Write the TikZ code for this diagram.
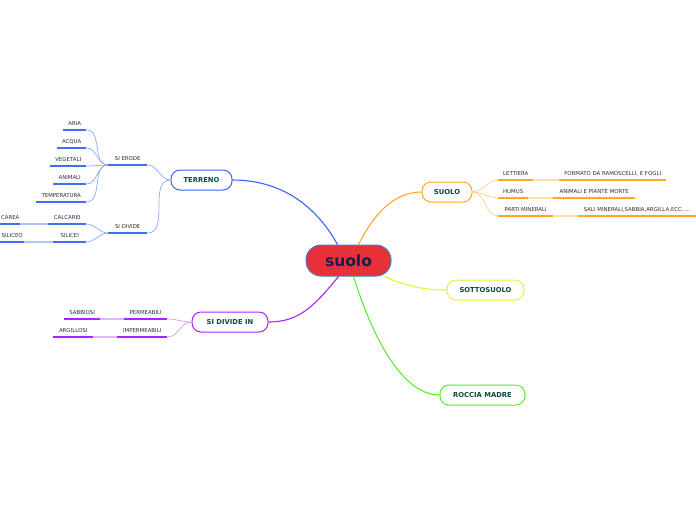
\documentclass[tikz,border=0pt]{standalone}
\usepackage{fontspec}
\setmainfont{DejaVu Sans}
\definecolor{cblue}{HTML}{3366FF}
\definecolor{cbluel}{HTML}{8FA8FF}
\definecolor{cblueul}{HTML}{3F6FF0}
\definecolor{corange}{HTML}{FFA726}
\definecolor{corangel}{HTML}{FFD08A}
\definecolor{cpurple}{HTML}{AA22FF}
\definecolor{cpurplel}{HTML}{D499FF}
\definecolor{cyellow}{HTML}{D8FA3C}
\definecolor{cgreen}{HTML}{55EE33}
\definecolor{cred}{HTML}{E8303A}
\definecolor{cborder}{HTML}{4A80B8}
\definecolor{ctext}{HTML}{0B4A3C}
\definecolor{cnavy}{HTML}{1A1F4A}
\definecolor{cgray}{HTML}{2E2E2E}
\tikzset{
  x=1pt, y=-1pt,
  centre/.style={draw=cborder, line width=1pt, fill=cred, rounded corners=15pt,
    minimum width=85pt, minimum height=31pt, inner sep=0pt,
    font=\fontsize{15.5}{15.5}\selectfont\bfseries, text=cnavy},
  topic/.style={draw=#1, line width=1pt, fill=white, rounded corners=9pt,
    minimum height=20pt, inner sep=0pt,
    font=\fontsize{6.8}{6.8}\selectfont\bfseries, text=ctext},
  leaf/.style={inner sep=0pt, minimum height=12pt, anchor=south west,
    font=\fontsize{5.4}{5.4}\selectfont, text=cgray},
  ul/.style={line width=1.6pt, draw=#1},
  main/.style={line width=1.1pt, draw=#1},
  twig/.style={line width=0.7pt, draw=#1},
  bridge/.style={line width=1.6pt, draw=#1},
}
\newcommand{\leafnode}[6]{% name, x1, x2, y, colour, text
  \node[leaf, minimum width=#3-#2] (#1) at (#2,#4) {#6};
  \draw[ul=#5] (#1.south west) -- (#1.south east);
}
\begin{document}
\begin{tikzpicture}
\useasboundingbox (0,0) rectangle (696,520);

% topics
\node[centre] (suolo) at (348.5,260.5) {suolo};
\node[topic=cblue, minimum width=61pt] (terreno) at (201.5,180) {TERRENO};
\node[topic=cpurple, minimum width=76pt] (divin) at (230,322) {SI DIVIDE IN};
\node[topic=corange, minimum width=50pt] (suoloB) at (447,192) {SUOLO};
\node[topic=cyellow, minimum width=77pt] (sotto) at (485.5,290) {SOTTOSUOLO};
\node[topic=cgreen, minimum width=85pt] (roccia) at (482.5,395) {ROCCIA MADRE};

% main connectors
\draw[main=cblue] (terreno.east) .. controls (295,180) and (325,222) .. ([xshift=-11pt]suolo.north);
\draw[main=corange] ([xshift=10pt]suolo.north) .. controls (375,212) and (395,192) .. (suoloB.west);
\draw[main=cyellow] ([xshift=36pt]suolo.south) .. controls (410,288) and (430,290) .. (sotto.west);
\draw[main=cgreen] ([xshift=5pt]suolo.south) .. controls (375,345) and (405,395) .. (roccia.west);
\draw[main=cpurple] ([xshift=-10pt]suolo.south) .. controls (315,305) and (300,322) .. (divin.east);

% blue branch
\leafnode{erode}{108}{147}{165}{cblueul}{SI ERODE}
\leafnode{divide}{108}{147}{233}{cblueul}{SI DIVIDE}
\leafnode{aria}{63}{86}{130}{cblueul}{ARIA}
\leafnode{acqua}{57}{86}{148}{cblueul}{ACQUA}
\leafnode{veget}{50}{86}{166}{cblueul}{VEGETALI}
\leafnode{anim}{53}{86}{184}{cblueul}{ANIMALI}
\leafnode{temp}{36}{86}{202}{cblueul}{TEMPERATURA}
\leafnode{calc}{48}{86}{224}{cblueul}{CALCAREI}
\leafnode{silicei}{53}{86}{242}{cblueul}{SILICEI}
\leafnode{carea}{0}{20}{224}{cblueul}{CAREA}
\leafnode{siliceo}{0}{24}{242}{cblueul}{SILICEO}

\draw[twig=cbluel] (erode.south east) to[out=0,in=180] (terreno.west);
\draw[twig=cbluel] (divide.south east) to[out=0,in=180] (terreno.west);
\foreach \n in {aria,acqua,veget,anim,temp}
  \draw[twig=cbluel] (\n.south east) to[out=0,in=180] (erode.south west);
\foreach \n in {calc,silicei}
  \draw[twig=cbluel] (\n.south east) to[out=0,in=180] (divide.south west);
\draw[bridge=cbluel!70] (carea.south east) -- (calc.south west);
\draw[bridge=cbluel!70] (siliceo.south east) -- (silicei.south west);

% purple branch
\leafnode{perm}{124}{167}{319}{cpurple}{PERMEABILI}
\leafnode{imperm}{117}{167}{337}{cpurple}{IMPERMEABILI}
\leafnode{sabb}{64}{100}{319}{cpurple}{SABBIOSI}
\leafnode{argil}{53}{93}{337}{cpurple}{ARGILLOSI}
\draw[twig=cpurplel] (perm.south east) to[out=0,in=180] (divin.west);
\draw[twig=cpurplel] (imperm.south east) to[out=0,in=180] (divin.west);
\draw[bridge=cpurplel!70] (sabb.south east) -- (perm.south west);
\draw[bridge=cpurplel!70] (argil.south east) -- (imperm.south west);

% orange branch
\leafnode{lett}{498}{533}{180}{corange}{LETTIERA}
\leafnode{humus}{498}{528}{198}{corange}{HUMUS}
\leafnode{parti}{498}{553}{216}{corange}{PARTI MINERALI}
\leafnode{form}{559}{666}{180}{corange}{FORMATO DA RAMOSCELLI, E FOGLI}
\leafnode{anim2}{553}{635}{198}{corange}{ANIMALI E PIANTE MORTE}
\leafnode{sali}{578}{696}{216}{corange}{SALI MINERALI,SABBIA,ARGILLA,ECC.....}
\foreach \n in {lett,humus,parti}
  \draw[twig=corangel] (suoloB.east) to[out=0,in=180] (\n.south west);
\draw[bridge=corangel!70] (lett.south east) -- (form.south west);
\draw[bridge=corangel!70] (humus.south east) -- (anim2.south west);
\draw[bridge=corangel!70] (parti.south east) -- (sali.south west);
\end{tikzpicture}
\end{document}
